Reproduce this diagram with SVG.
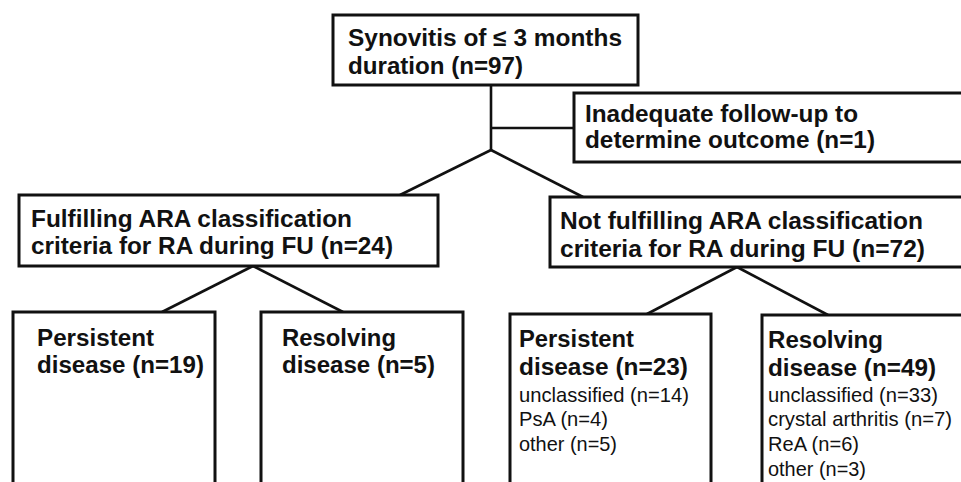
<svg xmlns="http://www.w3.org/2000/svg" width="961" height="482" viewBox="0 0 961 482">
<style>
.box{fill:#fff;stroke:#111;stroke-width:3}
.b{font-family:"Liberation Sans",Arial,sans-serif;font-weight:bold;font-size:23.5px;fill:#111}
.r{font-family:"Liberation Sans",Arial,sans-serif;font-size:21px;fill:#111}
.c{fill:none;stroke:#111;stroke-width:2.6}
</style>
<rect width="961" height="482" fill="#fff"/>
<g id="connectors">
<line class="c" x1="491" y1="85" x2="491" y2="150"/>
<line class="c" x1="491" y1="128" x2="574" y2="128"/>
<line class="c" x1="491" y1="150" x2="400" y2="195"/>
<line class="c" x1="491" y1="150" x2="583" y2="197"/>
<line class="c" x1="253" y1="266" x2="162" y2="312"/>
<line class="c" x1="253" y1="266" x2="343" y2="312"/>
<line class="c" x1="737" y1="267" x2="647" y2="314"/>
<line class="c" x1="737" y1="267" x2="828" y2="315"/>
</g>
<g id="n-synovitis">
<rect class="box" x="333" y="15" width="305" height="70"/>
<text class="b" x="348" y="46" textLength="274" lengthAdjust="spacingAndGlyphs">Synovitis of ≤ 3 months</text>
<text class="b" x="348" y="74" textLength="175" lengthAdjust="spacingAndGlyphs">duration (n=97)</text>
</g>
<g id="n-inadequate">
<rect class="box" x="574" y="93" width="400" height="69"/>
<text class="b" x="585" y="122" textLength="273" lengthAdjust="spacingAndGlyphs">Inadequate follow-up to</text>
<text class="b" x="585" y="148" textLength="290" lengthAdjust="spacingAndGlyphs">determine outcome (n=1)</text>
</g>
<g id="n-fulfilling">
<rect class="box" x="19" y="195" width="419" height="71"/>
<text class="b" x="31" y="227" textLength="321" lengthAdjust="spacingAndGlyphs">Fulfilling ARA classification</text>
<text class="b" x="31" y="254" textLength="362" lengthAdjust="spacingAndGlyphs">criteria for RA during FU (n=24)</text>
</g>
<g id="n-notfulfilling">
<rect class="box" x="550" y="197" width="430" height="70"/>
<text class="b" x="560" y="229" textLength="363" lengthAdjust="spacingAndGlyphs">Not fulfilling ARA classification</text>
<text class="b" x="560" y="257" textLength="365" lengthAdjust="spacingAndGlyphs">criteria for RA during FU (n=72)</text>
</g>
<g id="n-persistent-ra">
<rect class="box" x="13" y="312" width="202" height="200"/>
<text class="b" x="37" y="346" textLength="117" lengthAdjust="spacingAndGlyphs">Persistent</text>
<text class="b" x="37" y="373" textLength="167" lengthAdjust="spacingAndGlyphs">disease (n=19)</text>
</g>
<g id="n-resolving-ra">
<rect class="box" x="261" y="312" width="202" height="200"/>
<text class="b" x="282" y="346" textLength="114" lengthAdjust="spacingAndGlyphs">Resolving</text>
<text class="b" x="282" y="373" textLength="153" lengthAdjust="spacingAndGlyphs">disease (n=5)</text>
</g>
<g id="n-persistent-nonra">
<rect class="box" x="510" y="314" width="201" height="200"/>
<text class="b" x="519" y="347" textLength="115" lengthAdjust="spacingAndGlyphs">Persistent</text>
<text class="b" x="519" y="375" textLength="169" lengthAdjust="spacingAndGlyphs">disease (n=23)</text>
<text class="r" x="519" y="401.5" textLength="170" lengthAdjust="spacingAndGlyphs">unclassified (n=14)</text>
<text class="r" x="519" y="426" textLength="89" lengthAdjust="spacingAndGlyphs">PsA (n=4)</text>
<text class="r" x="519" y="451" textLength="98" lengthAdjust="spacingAndGlyphs">other (n=5)</text>
</g>
<g id="n-resolving-nonra">
<rect class="box" x="762" y="315" width="220" height="200"/>
<text class="b" x="768" y="348" textLength="115" lengthAdjust="spacingAndGlyphs">Resolving</text>
<text class="b" x="768" y="376" textLength="168" lengthAdjust="spacingAndGlyphs">disease (n=49)</text>
<text class="r" x="768" y="401.5" textLength="170" lengthAdjust="spacingAndGlyphs">unclassified (n=33)</text>
<text class="r" x="768" y="426" textLength="184" lengthAdjust="spacingAndGlyphs">crystal arthritis (n=7)</text>
<text class="r" x="768" y="451" textLength="91" lengthAdjust="spacingAndGlyphs">ReA (n=6)</text>
<text class="r" x="768" y="475.5" textLength="98" lengthAdjust="spacingAndGlyphs">other (n=3)</text>
</g>
</svg>
